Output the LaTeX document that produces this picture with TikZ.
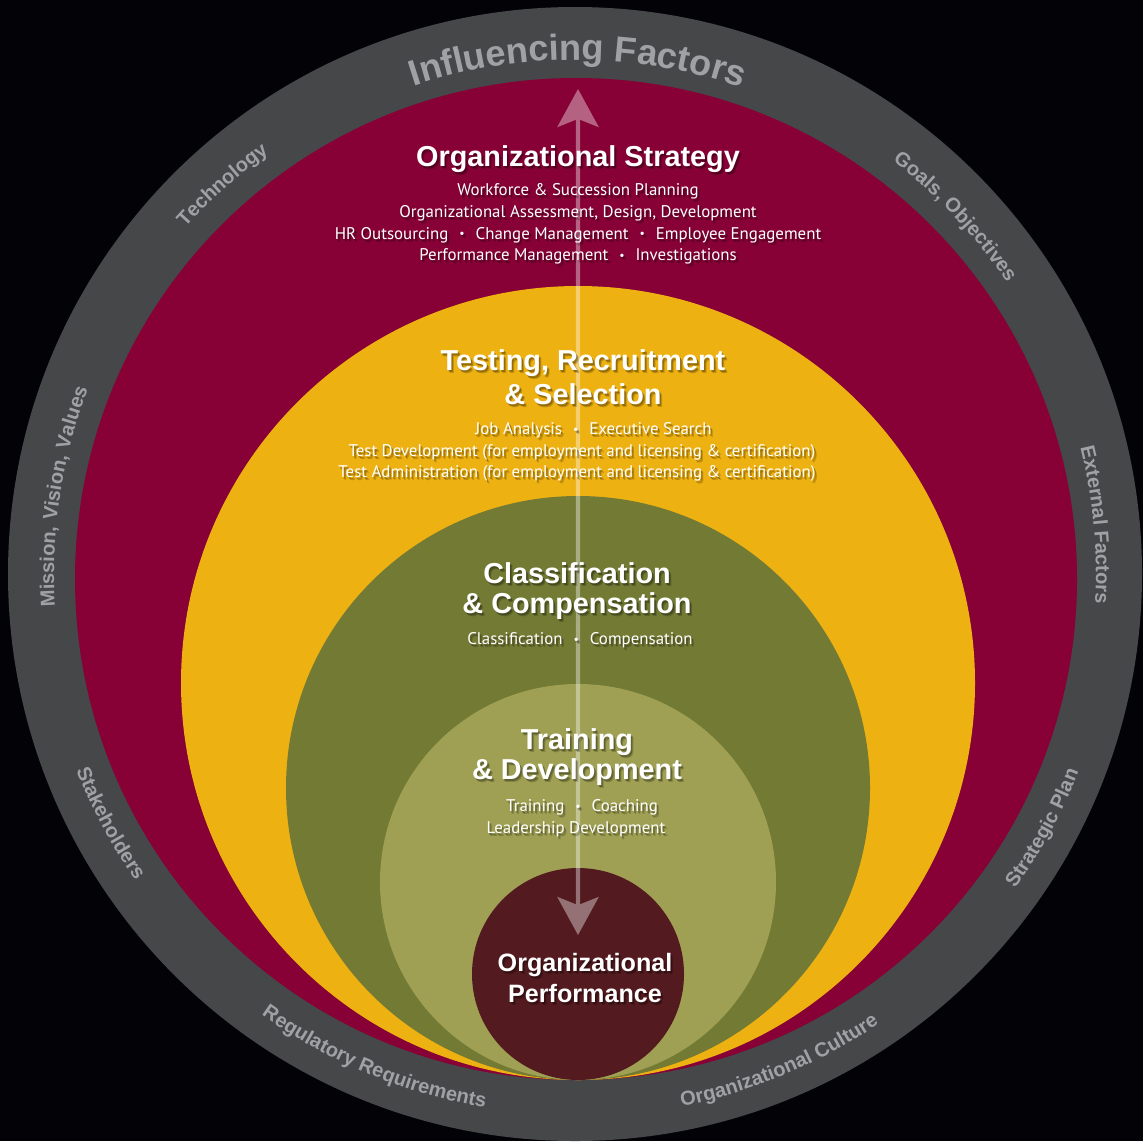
\documentclass[tikz,border=0pt]{standalone}
\usepackage{fontspec}
\setmainfont{Liberation Sans}
\newfontfamily\subfont{PT Sans}
\usetikzlibrary{decorations.text,arrows.meta}
\definecolor{bg}{HTML}{030307}
\definecolor{ringgray}{HTML}{464749}
\definecolor{crim}{HTML}{870036}
\definecolor{gold}{HTML}{EEB112}
\definecolor{olivedark}{HTML}{727A34}
\definecolor{olivelight}{HTML}{9FA053}
\definecolor{perfmaroon}{HTML}{531A1F}
\definecolor{ringtext}{HTML}{A0A1A5}
\newcommand{\bul}{\hspace{0.65em}\raisebox{0.15ex}{\scalebox{0.7}{•}}\hspace{0.65em}}
\newcommand{\ringfontsmall}{\bfseries\fontsize{5.7}{6}\selectfont}
\newcommand{\ringfontbig}{\bfseries\fontsize{10.3}{11}\selectfont}
% clockwise arc text (tops outward): angle, halfspan, radius, font, text
\newcommand{\ringcw}[5]{%
  \path[decorate,decoration={text along path,text align=center,text color=ringtext,text={|#4|#5}}]
    (575,567) ++({#1+#2}:#3) arc[start angle={#1+#2},end angle={#1-#2},radius=#3];}
% counterclockwise arc text (tops inward)
\newcommand{\ringccw}[5]{%
  \path[decorate,decoration={text along path,text align=center,text color=ringtext,text={|#4|#5}}]
    (575,567) ++({#1-#2}:#3) arc[start angle={#1-#2},end angle={#1+#2},radius=#3];}
% text with soft drop shadow: name, x, y, style, text
\newcommand{\shadowtext}[5]{%
  \node[#4,text=black,opacity=0.18] (#1-s1) at ({#2+2.5},{#3-3}) {#5};
  \node[#4,text=black,opacity=0.25] (#1-s2) at ({#2+1.5},{#3-2}) {#5};
  \node[#4] (#1) at (#2,#3) {#5};}
\tikzset{
  titletext/.style={text=white,font=\bfseries\fontsize{8.2}{9.7}\selectfont,align=center,inner sep=0pt},
  titletight/.style={titletext,font=\bfseries\fontsize{8.2}{8.3}\selectfont},
  perftext/.style={titletext,font=\bfseries\fontsize{7.15}{8.55}\selectfont},
  subtext/.style={text=white,font=\subfont\fontsize{4.8}{6.15}\selectfont,align=center,inner sep=0pt},
  bidir/.style={white,line width=1.15pt,
    {Stealth[length=10.8pt,width=11.7pt,inset=2.3pt]}-{Stealth[length=10.8pt,width=11.7pt,inset=2.3pt]}}
}
\begin{document}
\begin{tikzpicture}[x=0.01cm,y=0.01cm]
\fill[bg] (0,0) rectangle (1143,1141);
\useasboundingbox (0,0) rectangle (1143,1141);
% rings
\fill[ringgray] (575,567) circle[radius=567];
\fill[crim] (576,562) circle[radius=501];
\fill[gold] (578,458) circle[radius=397];
\fill[olivedark] (578,353) circle[radius=292];
\fill[olivelight] (578,259) circle[radius=198];
\fill[perfmaroon] (578,167) circle[radius=106];
% ring labels
\ringcw{89.7}{30}{514}{\ringfontbig}{Influencing Factors}
\ringcw{132.2}{30}{521}{\ringfontsmall}{Technology}
\ringcw{43.2}{30}{521}{\ringfontsmall}{Goals, Objectives}
\ringcw{171.4}{35}{521}{\ringfontsmall}{Mission, Vision, Values}
\ringcw{5.4}{30}{521}{\ringfontsmall}{External Factors}
\ringccw{208.2}{30}{536}{\ringfontsmall}{Stakeholders}
\ringccw{331.5}{30}{541}{\ringfontsmall}{Strategic Plan}
\ringccw{247.5}{35}{541}{\ringfontsmall}{Regulatory Requirements}
\ringccw{292.7}{30}{543}{\ringfontsmall}{Organizational Culture}
% arrow
\coordinate (arrTop) at (578,1052);
\coordinate (arrBot) at (578,206);
\begin{scope}[transparency group,opacity=0.38]
\draw[bidir] (arrBot) -- (arrTop);
\end{scope}
% texts
\shadowtext{strat}{578}{982}{titletext}{Organizational Strategy}
\shadowtext{stratsub}{578}{917}{subtext}{Workforce \& Succession Planning\\Organizational Assessment, Design, Development\\HR Outsourcing\bul Change Management\bul Employee Engagement\\Performance Management\bul Investigations}
\shadowtext{test}{583}{764}{titletext}{Testing, Recruitment\\\& Selection}
\shadowtext{testsub}{577}{689}{subtext}{\hspace*{0.33cm}Job Analysis\bul Executive Search\\\hspace*{0.1cm}Test Development (for employment and licensing \& certification)\\Test Administration (for employment and licensing \& certification)}
\shadowtext{class}{577}{550}{titletight}{Classification\\\& Compensation}
\shadowtext{classsub}{580}{501}{subtext}{Classification\bul Compensation}
\shadowtext{train}{577}{384}{titletight}{Training\\\& Development}
\shadowtext{trainsub}{576}{323}{subtext}{\hspace*{0.12cm}Training\bul Coaching\\Leadership Development}
\shadowtext{perf}{585}{163}{perftext}{Organizational\\Performance}
\end{tikzpicture}
\end{document}
